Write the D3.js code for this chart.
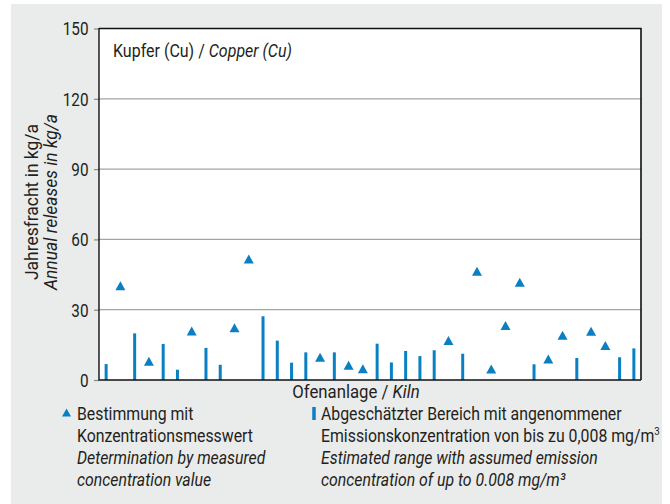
<!DOCTYPE html>
<html><head><meta charset="utf-8">
<script src="https://cdn.jsdelivr.net/npm/d3@7"></script>
<style>
html,body{margin:0;padding:0;background:#fff;}
svg text{font-family:Roboto,"Liberation Sans",sans-serif;fill:#231f20;}
</style></head>
<body><svg id="c" width="670" height="504"></svg>
<script>
// Kiln index (1..38)
const kilns = d3.range(1, 39).map(String);
// Determination by measured concentration value (kg/a), null = none
const measured = [null,40.2,null,8.0,null,null,20.9,null,null,22.3,51.6,null,null,null,null,9.7,null,6.3,4.8,null,
                  null,null,null,null,16.9,null,46.4,4.7,23.3,41.7,null,9.0,19.1,null,20.8,14.7,null,null];
// Estimated range with assumed emission concentration up to 0.008 mg/m3 (kg/a), null = none
const estimated = [6.8,null,19.9,null,15.4,4.4,null,13.7,6.5,null,null,27.2,16.8,7.4,11.8,null,11.8,null,null,15.5,
                   7.5,12.4,10.2,12.7,null,11.2,null,null,null,null,6.7,null,null,9.4,null,null,9.7,13.5];
const yTicks = [0,30,60,90,120,150];

const blue = "#0a80c2";
const FS = 18, SX = 0.88;
const svg = d3.select("#c");
svg.append("rect").attr("x",11).attr("y",4).attr("width",651).attr("height",500).attr("fill","#eaebeb");

const L=99, R=641, T=28.5, B=380;
const x = d3.scalePoint().domain(kilns).range([L,R]).padding(0.5);
const y = d3.scaleLinear().domain([0,150]).range([B,T]);

// text helper: horizontally condensed text
function label(parent, px, py, parts, opts={}){
  const tx = parent.append("text")
    .attr("transform",`translate(${px},${py}) ${opts.rot?`rotate(${opts.rot})`:""} scale(${opts.sx||SX},1)`)
    .attr("font-size",FS).attr("text-anchor",opts.anchor||"start");
  parts.forEach(p=>{
    const s = tx.append("tspan").text(p.t);
    if(p.i) s.attr("font-style","italic");
    if(p.sup) s.attr("font-size",11).attr("dy",-7);
  });
  return tx;
}

svg.append("rect").attr("x",L).attr("y",T).attr("width",R-L).attr("height",B-T).attr("fill","#fff");

// grid
svg.append("g").selectAll("line").data(yTicks.filter(d=>d>0&&d<150)).join("line")
  .attr("x1",L).attr("x2",R).attr("y1",d=>y(d)).attr("y2",d=>y(d))
  .attr("stroke","#a4a4a4").attr("stroke-width",1.2);

// y axis
const yAxis = d3.axisLeft(y).tickValues(yTicks).tickSize(5).tickFormat("");
const gy = svg.append("g").attr("transform",`translate(${L},0)`).call(yAxis);
gy.select(".domain").remove();
gy.selectAll(".tick line").attr("stroke","#888").attr("stroke-width",1.2);
gy.selectAll(".tick").each(function(d){
  label(d3.select(this), -10.5, 6.3, [{t:String(d)}], {anchor:"end", sx:0.85});
});

// bars
svg.append("g").selectAll("line").data(kilns.map((k,i)=>({k,v:estimated[i]})).filter(d=>d.v!=null)).join("line")
  .attr("x1",d=>x(d.k)).attr("x2",d=>x(d.k)).attr("y1",y(0)).attr("y2",d=>y(d.v))
  .attr("stroke",blue).attr("stroke-width",3);

// triangles
const tri = (w,h)=>`M0,${-h/2}L${w/2},${h/2}L${-w/2},${h/2}Z`;
svg.append("g").selectAll("path").data(kilns.map((k,i)=>({k,v:measured[i]})).filter(d=>d.v!=null)).join("path")
  .attr("d",tri(10,9)).attr("transform",d=>`translate(${x(d.k)},${y(d.v)})`).attr("fill",blue);

// frame
svg.append("path").attr("d",`M${L},${T}H${R}V${B}`).attr("fill","none").attr("stroke","#111").attr("stroke-width",1.6);
svg.append("path").attr("d",`M${L},${T-0.5}V${B}H${R}`).attr("fill","none").attr("stroke","#111").attr("stroke-width",1.4);

// chart title
label(svg, 113, 56.5, [{t:"Kupfer (Cu) / "},{t:"Copper (Cu)",i:true}], {sx:0.89});

// y axis title
label(svg, 37.5, 202, [{t:"Jahresfracht in kg/a"}], {rot:-90, anchor:"middle", sx:0.97});
label(svg, 57, 202, [{t:"Annual releases in kg/a",i:true}], {rot:-90, anchor:"middle", sx:0.97});

// x axis title
label(svg, 356, 398, [{t:"Ofenanlage / "},{t:"Kiln",i:true}], {anchor:"middle", sx:0.93});

// legend
const LY = 420, LH = 22;
svg.append("path").attr("d",tri(9,8)).attr("transform",`translate(66.5,${LY-7.5})`).attr("fill",blue);
[[{t:"Bestimmung mit"}],[{t:"Konzentrationsmesswert"}],[{t:"Determination by measured",i:true}],[{t:"concentration value",i:true}]]
  .forEach((p,i)=>label(svg, 77, LY+i*LH, p));
svg.append("line").attr("x1",314).attr("x2",314).attr("y1",LY-13).attr("y2",LY).attr("stroke",blue).attr("stroke-width",3.5);
[[{t:"Abgeschätzter Bereich mit angenommener"}],[{t:"Emissionskonzentration von bis zu 0,008 mg/m"},{t:"3",sup:true}],
 [{t:"Estimated range with assumed emission",i:true}],[{t:"concentration of up to 0.008 mg/m³",i:true}]]
  .forEach((p,i)=>label(svg, 321, LY+i*LH, p));
</script></body></html>
